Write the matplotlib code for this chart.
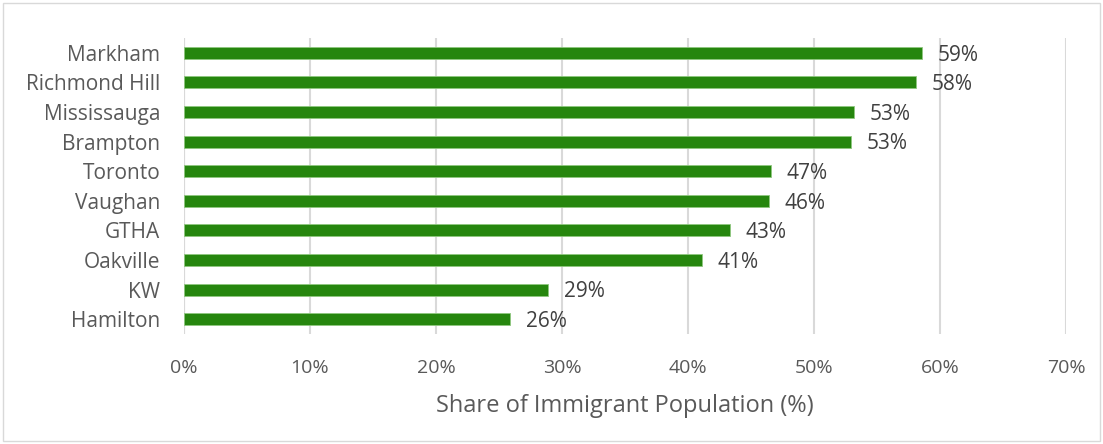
import matplotlib.pyplot as plt
from matplotlib.patches import Rectangle

# Data (share of immigrant population, %)
cities = ['Markham', 'Richmond Hill', 'Mississauga', 'Brampton', 'Toronto',
          'Vaughan', 'GTHA', 'Oakville', 'KW', 'Hamilton']
shares = [58.6, 58.1, 53.2, 52.9, 46.6, 46.4, 43.3, 41.1, 28.9, 25.9]
xticks = [0, 10, 20, 30, 40, 50, 60, 70]

plt.rcParams['font.family'] = ['Open Sans', 'DejaVu Sans']
text_color = '#595959'

fig = plt.figure(figsize=(11.03, 4.44), dpi=100)
ax = fig.add_axes([184 / 1103, 1 - 334 / 444, (1066 - 184) / 1103, (334 - 38) / 444])

ypos = list(range(len(cities)))[::-1]
ax.barh(ypos, shares, height=0.4, color='#26860E', edgecolor='#8FC77F',
        linewidth=0.6, zorder=3)

for y, v in zip(ypos, shares):
    ax.text(v + 1.25, y - 0.08, f'{round(v):.0f}%', va='center', ha='left',
            fontsize=15, color='#404040')

ax.set_xlim(0, 70)
ax.set_ylim(-0.5, len(cities) - 0.5)
ax.set_xticks(xticks)
ax.set_xticklabels([f'{t}%' for t in xticks], fontsize=14, color=text_color)
ax.set_yticks(ypos)
ax.set_yticklabels(cities, fontsize=15, color=text_color)
ax.tick_params(axis='both', length=0)
ax.tick_params(axis='x', pad=18)
ax.tick_params(axis='y', pad=17)

ax.grid(axis='x', color='#D9D9D9', linewidth=1.5, zorder=0)
for s in ax.spines.values():
    s.set_visible(False)
ax.axvline(0, color='#D9D9D9', linewidth=1.5, zorder=1)

ax.set_xlabel('Share of Immigrant Population (%)', fontsize=17,
              color=text_color, labelpad=12)

# light chart border
fig.patches.append(Rectangle((3 / 1103, 3 / 444), 1 - 6 / 1103, 1 - 6 / 444,
                             transform=fig.transFigure, fill=False,
                             edgecolor='#D9D9D9', linewidth=1))

fig.savefig('out.png', dpi=100)
